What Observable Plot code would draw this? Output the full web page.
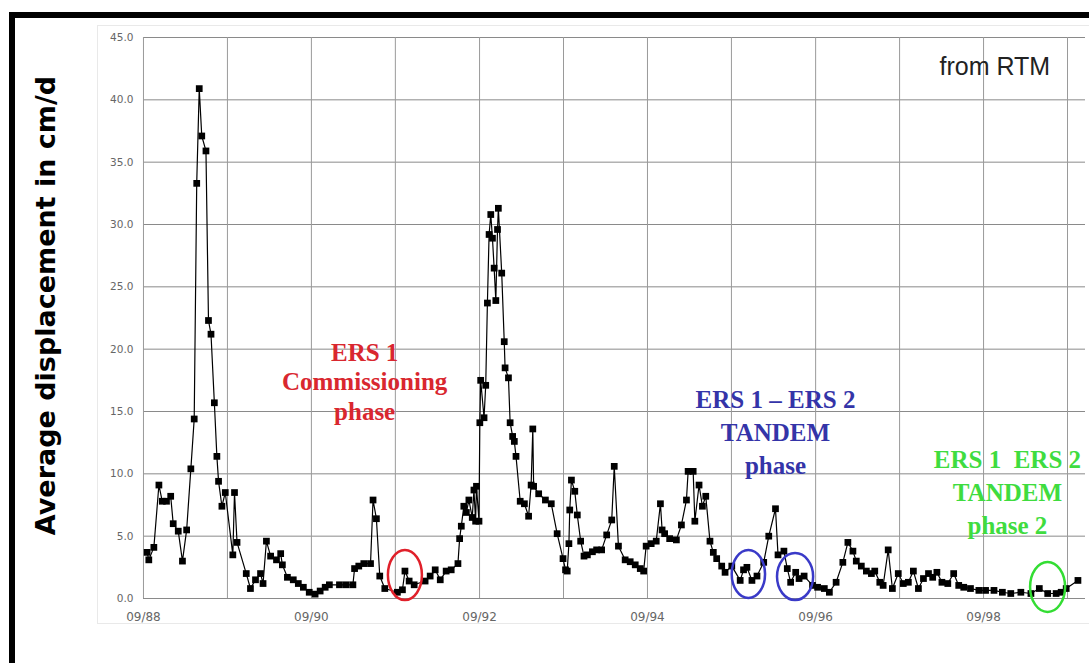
<!DOCTYPE html>
<html>
<head>
<meta charset="utf-8">
<script src="https://cdn.jsdelivr.net/npm/d3@7"></script>
<script src="https://cdn.jsdelivr.net/npm/@observablehq/plot@0.6"></script>
<style>
  html, body { margin: 0; padding: 0; background: #fff; }
  #wrap { position: relative; width: 1089px; height: 663px; overflow: hidden; }
  #border { position: absolute; left: 9px; top: 12px; width: 1200px; height: 800px;
            border-top: 6px solid #000; border-left: 6px solid #000; pointer-events: none; }
  #chart svg { display: block; }
</style>
</head>
<body>
<div id="wrap"><div id="chart"></div><div id="border"></div></div>
<script>
// ---- data (decimal years, cm/d) ----
const years = [
  1988.71, 1988.73, 1988.79, 1988.85, 1988.89, 1988.94, 1988.99, 1989.02, 1989.08, 1989.13,
  1989.18, 1989.23, 1989.27, 1989.30, 1989.33, 1989.36, 1989.41, 1989.44, 1989.47, 1989.51,
  1989.54, 1989.56, 1989.60, 1989.64, 1989.73, 1989.75, 1989.78, 1989.89, 1989.94, 1990.00,
  1990.06, 1990.09, 1990.13, 1990.18, 1990.25, 1990.30, 1990.32, 1990.38, 1990.45, 1990.51,
  1990.57, 1990.64, 1990.71, 1990.77, 1990.83, 1990.88, 1991.00, 1991.08, 1991.16, 1991.18,
  1991.23, 1991.29, 1991.37, 1991.40, 1991.44, 1991.48, 1991.54, 1991.69, 1991.75, 1991.78,
  1991.83, 1991.89, 1992.02, 1992.08, 1992.14, 1992.20, 1992.27, 1992.33, 1992.41, 1992.43,
  1992.45, 1992.48, 1992.51, 1992.54, 1992.58, 1992.60, 1992.62, 1992.63, 1992.66, 1992.67,
  1992.68, 1992.72, 1992.74, 1992.76, 1992.78, 1992.80, 1992.82, 1992.84, 1992.86, 1992.88,
  1992.89, 1992.93, 1992.96, 1992.97, 1993.01, 1993.03, 1993.06, 1993.08, 1993.10, 1993.15,
  1993.20, 1993.25, 1993.28, 1993.30, 1993.31, 1993.37, 1993.45, 1993.52, 1993.59, 1993.66,
  1993.69, 1993.71, 1993.73, 1993.74, 1993.76, 1993.80, 1993.83, 1993.87, 1993.91, 1993.95,
  1994.01, 1994.06, 1994.12, 1994.18, 1994.24, 1994.27, 1994.32, 1994.40, 1994.46, 1994.52,
  1994.58, 1994.62, 1994.65, 1994.71, 1994.77, 1994.82, 1994.84, 1994.87, 1994.93, 1995.01,
  1995.07, 1995.13, 1995.15, 1995.21, 1995.23, 1995.28, 1995.32, 1995.36, 1995.41, 1995.45,
  1995.49, 1995.55, 1995.59, 1995.67, 1995.77, 1995.81, 1995.85, 1995.91, 1995.97, 1996.05,
  1996.11, 1996.19, 1996.22, 1996.29, 1996.33, 1996.37, 1996.43, 1996.47, 1996.53, 1996.63,
  1996.69, 1996.77, 1996.83, 1996.91, 1996.99, 1997.05, 1997.11, 1997.15, 1997.21, 1997.27,
  1997.33, 1997.37, 1997.43, 1997.47, 1997.53, 1997.58, 1997.65, 1997.71, 1997.77, 1997.83,
  1997.89, 1997.95, 1998.01, 1998.06, 1998.11, 1998.17, 1998.24, 1998.31, 1998.37, 1998.43,
  1998.51, 1998.61, 1998.69, 1998.79, 1998.89, 1998.99, 1999.11, 1999.23, 1999.33, 1999.43,
  1999.53, 1999.59, 1999.65, 1999.79
];
const displacement = [
  3.7, 3.1, 4.1, 9.1, 7.8, 7.8, 8.2, 6.0, 5.4, 3.0,
  5.5, 10.4, 14.4, 33.3, 40.9, 37.1, 35.9, 22.3, 21.2, 15.7,
  11.4, 9.4, 7.4, 8.5, 3.5, 8.5, 4.5, 2.0, 0.8, 1.5,
  2.0, 1.2, 4.6, 3.4, 3.1, 3.6, 2.7, 1.7, 1.5, 1.2,
  0.9, 0.5, 0.35, 0.6, 0.9, 1.1, 1.1, 1.1, 1.1, 2.4,
  2.6, 2.8, 2.8, 7.9, 6.4, 1.8, 0.8, 0.5, 0.7, 2.2,
  1.4, 1.1, 1.4, 1.8, 2.3, 1.5, 2.2, 2.3, 2.8, 4.8,
  5.8, 7.4, 6.9, 7.9, 6.5, 8.7, 6.2, 9.0, 6.2, 14.1,
  17.5, 14.5, 17.1, 23.7, 29.2, 30.8, 28.9, 26.5, 23.9, 29.6,
  31.3, 26.1, 20.6, 18.5, 17.7, 14.1, 13.0, 12.6, 11.4, 7.8,
  7.6, 6.6, 9.1, 13.6, 9.0, 8.4, 7.9, 7.6, 5.2, 3.2,
  2.3, 2.2, 4.4, 7.1, 9.5, 8.6, 6.7, 4.6, 3.4, 3.5,
  3.75, 3.9, 3.9, 5.1, 6.3, 10.6, 4.2, 3.1, 2.95, 2.7,
  2.4, 2.2, 4.2, 4.4, 4.6, 7.6, 5.5, 5.2, 4.8, 4.7,
  5.9, 7.9, 10.2, 10.2, 6.2, 9.1, 7.4, 8.2, 4.6, 3.7,
  3.2, 2.6, 2.1, 2.6, 1.45, 2.3, 2.5, 1.45, 1.8, 2.9,
  5.0, 7.2, 3.5, 3.8, 2.4, 1.3, 2.1, 1.6, 1.8, 1.05,
  0.9, 0.8, 0.5, 1.3, 2.9, 4.5, 3.8, 3.0, 2.6, 2.2,
  2.0, 2.2, 1.3, 1.05, 3.9, 0.8, 2.0, 1.2, 1.3, 2.2,
  0.8, 1.6, 2.0, 1.7, 2.1, 1.3, 1.2, 2.0, 1.05, 0.9,
  0.8, 0.65, 0.65, 0.65, 0.5, 0.4, 0.5, 0.4, 0.8, 0.4,
  0.4, 0.5, 0.8, 1.45
];

// axis ticks
const yTicks = [0, 5, 10, 15, 20, 25, 30, 35, 40, 45];
const xTickLabels = ["09/88", "09/90", "09/92", "09/94", "09/96", "09/98"];
const xGridLabels = ["09/88", "09/89", "09/90", "09/91", "09/92", "09/93", "09/94", "09/95", "09/96", "09/97", "09/98", "09/99"];
const xDomainYears = [1988.667, 1999.88];

// highlighted periods (ellipses): start/end decimal year, value range
const periodNames = ["commissioning", "tandem", "tandem", "tandem2"];
const periodStart = [1991.583, 1995.675, 1996.214, 1999.226];
const periodEnd   = [1991.988, 1996.072, 1996.643, 1999.643];
const periodLow   = [-0.16, 0.0, -0.16, -1.12];
const periodHigh  = [3.85, 3.85, 3.6, 2.89];

// annotation labels
const noteText = ["ERS 1\nCommissioning\nphase", "ERS 1 \u2013 ERS 2\nTANDEM\nphase", "ERS 1  ERS 2\nTANDEM\nphase 2"];
const noteNames = ["commissioning", "tandem", "tandem2"];
const noteYear = [1991.30, 1996.19, 1998.95];
const noteValue = [17.45, 13.45, 8.7];

const colors = { commissioning: "#d9272f", tandem: "#3434a8", tandem2: "#3fdc3f" };
const ellipseColors = { commissioning: "#e0202a", tandem: "#3a3ac8", tandem2: "#33dd33" };

// ---- helpers ----
const toDate = y => {
  const yr = Math.floor(y);
  const start = Date.UTC(yr, 0, 1), end = Date.UTC(yr + 1, 0, 1);
  return new Date(start + (y - yr) * (end - start));
};
const parseMY = d3.utcParse("%m/%y");

const data = years.map((y, i) => ({ date: toDate(y), value: displacement[i] }));
const notes = noteText.map((t, i) => ({ text: t, date: toDate(noteYear[i]), value: noteValue[i], name: noteNames[i] }));

const ellipsesMark = (index, scales) => {
  const g = d3.create("svg:g");
  periodStart.forEach((s, i) => {
    const x0 = scales.x(toDate(s)), x1 = scales.x(toDate(periodEnd[i]));
    const y0 = scales.y(periodLow[i]), y1 = scales.y(periodHigh[i]);
    g.append("ellipse")
      .attr("cx", (x0 + x1) / 2).attr("cy", (y0 + y1) / 2)
      .attr("rx", Math.abs(x1 - x0) / 2).attr("ry", Math.abs(y1 - y0) / 2)
      .attr("fill", "none").attr("stroke", ellipseColors[periodNames[i]]).attr("stroke-width", 2.5);
  });
  return g.node();
};

const noteStyle = {
  x: "date", y: "value", text: "text", fill: d => colors[d.name],
  fontFamily: "Liberation Serif", fontWeight: "bold", fontSize: 25,
  lineAnchor: "middle", textAnchor: "middle"
};

const chart = Plot.plot({
  width: 1089,
  height: 663,
  marginLeft: 143,
  marginRight: 4,
  marginTop: 37,
  marginBottom: 65,
  style: { fontFamily: "DejaVu Sans", background: "transparent" },
  x: { type: "utc", domain: xDomainYears.map(toDate) },
  y: { domain: [0, 45] },
  marks: [
    Plot.frame({ stroke: "#e9e9e9", insetLeft: -46, insetTop: -12, insetBottom: -25, insetRight: -10 }),
    Plot.gridY(yTicks, { stroke: "#8a8a8a", strokeOpacity: 1, strokeWidth: 1 }),
    Plot.gridX(xGridLabels.map(parseMY), { stroke: "#9a9a9a", strokeOpacity: 1, strokeWidth: 1 }),
    Plot.axisY(yTicks, { tickFormat: d3.format(".1f"), tickSize: 0, tickPadding: 10, fontSize: 10.5, fill: "#666", label: null }),
    Plot.axisX(xTickLabels.map(parseMY), { tickFormat: d3.utcFormat("%m/%y"), tickSize: 0, tickPadding: 14, fontSize: 12, fill: "#666", label: null }),
    Plot.line(data, { x: "date", y: "value", stroke: "#000", strokeWidth: 1.2 }),
    Plot.dot(data, { x: "date", y: "value", symbol: "square", fill: "#000", r: 3.8 }),
    ellipsesMark,
    Plot.text(notes.filter(d => d.name === "commissioning"), { ...noteStyle, lineHeight: 1.18 }),
    Plot.text(notes.filter(d => d.name !== "commissioning"), { ...noteStyle, lineHeight: 1.32 }),
    Plot.text(["from RTM"], {
      x: () => toDate(1998.80), y: () => 42.6, text: d => d,
      fontFamily: "Liberation Sans", fontSize: 25, fill: "#222", textAnchor: "middle", lineAnchor: "middle"
    }),
    Plot.text(["Average displacement in cm/d"], {
      frameAnchor: "left", text: d => d, rotate: -90, dx: -97.5, dy: -12.5,
      fontFamily: "DejaVu Sans", fontWeight: "bold", fontSize: 27, fill: "#000",
      textAnchor: "middle", lineAnchor: "middle"
    })
  ]
});
document.getElementById("chart").appendChild(chart);
</script>
</body>
</html>
